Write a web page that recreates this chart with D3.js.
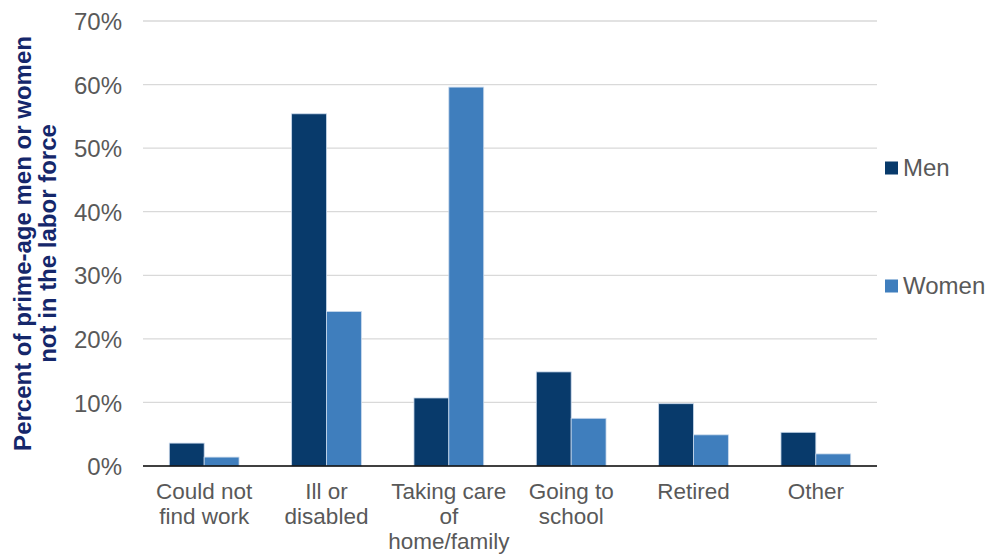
<!DOCTYPE html>
<html>
<head>
<meta charset="utf-8">
<script src="https://cdn.jsdelivr.net/npm/d3@7"></script>
<style>
  body { margin: 0; background: #fff; }
  svg { font-family: 'Liberation Sans', Arial, sans-serif; }
</style>
</head>
<body>
<div id="chart"></div>
<script>
  'use strict';

  // categories and series
  var categories = [
    ['Could not', 'find work'],
    ['Ill or', 'disabled'],
    ['Taking care', 'of', 'home/family'],
    ['Going to', 'school'],
    ['Retired'],
    ['Other']
  ];
  var seriesNames = ['Men', 'Women'];
  var men = [3.6, 55.4, 10.7, 14.8, 9.8, 5.3];
  var women = [1.4, 24.3, 59.6, 7.5, 4.9, 1.9];
  var yTicks = [0, 10, 20, 30, 40, 50, 60, 70];
  var colors = ['#083a6b', '#3f7ebd'];

  var width = 988, height = 554;
  var margin = { top: 21, right: 111, bottom: 88, left: 143 };
  var innerW = width - margin.left - margin.right;
  var innerH = height - margin.top - margin.bottom;

  var svg = d3.select('#chart').append('svg')
    .attr('width', width)
    .attr('height', height);

  var g = svg.append('g')
    .attr('transform', 'translate(' + margin.left + ',' + margin.top + ')');

  var x = d3.scaleBand().domain(d3.range(categories.length)).range([0, innerW]).paddingInner(0.43).paddingOuter(0.215);
  var sub = d3.scaleBand().domain(seriesNames).range([0, x.bandwidth()]);
  var y = d3.scaleLinear().domain([0, 70]).range([innerH, 0]);

  // gridlines
  g.append('g')
    .selectAll('line')
    .data(yTicks.slice(1))
    .enter().append('line')
    .attr('x1', 0).attr('x2', innerW)
    .attr('y1', function(d) { return y(d); })
    .attr('y2', function(d) { return y(d); })
    .attr('stroke', '#d9d9d9')
    .attr('stroke-width', 1.3);

  // y tick labels
  var yAxis = d3.axisLeft(y).tickValues(yTicks).tickSize(0).tickPadding(21)
    .tickFormat(function(d) { return d + '%'; });
  var ya = g.append('g').call(yAxis);
  ya.select('.domain').remove();
  ya.selectAll('text')
    .attr('fill', '#595959')
    .attr('dy', '0.36em')
    .style('font-size', '24px');

  // bars
  var data = categories.map(function(c, i) {
    return [{ s: 'Men', v: men[i] }, { s: 'Women', v: women[i] }];
  });
  var groups = g.selectAll('.grp')
    .data(data)
    .enter().append('g')
    .attr('class', 'grp')
    .attr('transform', function(d, i) { return 'translate(' + x(i) + ',0)'; });
  groups.selectAll('rect')
    .data(function(d) { return d; })
    .enter().append('rect')
    .attr('x', function(d) { return sub(d.s); })
    .attr('width', sub.bandwidth())
    .attr('y', function(d) { return y(d.v); })
    .attr('height', function(d) { return innerH - y(d.v); })
    .attr('fill', function(d, i) { return colors[i]; })
    .attr('stroke', '#c9d9ec')
    .attr('stroke-width', 0.8);

  // baseline
  g.append('line')
    .attr('x1', 0).attr('x2', innerW)
    .attr('y1', innerH).attr('y2', innerH)
    .attr('stroke', '#000')
    .attr('stroke-width', 1.5);

  // x labels
  var xl = g.selectAll('.xlab')
    .data(categories)
    .enter().append('text')
    .attr('class', 'xlab')
    .attr('text-anchor', 'middle')
    .attr('fill', '#595959')
    .style('font-size', '22.5px')
    .attr('transform', function(d, i) { return 'translate(' + (x(i) + x.bandwidth() / 2) + ',' + (innerH + 33) + ')'; });
  xl.selectAll('tspan')
    .data(function(d) { return d; })
    .enter().append('tspan')
    .attr('x', 0)
    .attr('y', function(d, i) { return i * 25; })
    .text(function(d) { return d; });

  // y axis title
  var yt = svg.append('text')
    .attr('transform', 'translate(31,' + (margin.top + innerH / 2) + ') rotate(-90)')
    .attr('text-anchor', 'middle')
    .attr('fill', '#15276b')
    .style('font-size', '24px')
    .style('font-weight', 'bold');
  yt.append('tspan').attr('x', 0).attr('y', 0).text('Percent of prime-age men or women');
  yt.append('tspan').attr('x', 0).attr('y', 25).text('not in the labor force');

  // legend
  var legendY = [168, 286];
  var legend = svg.selectAll('.leg')
    .data(seriesNames)
    .enter().append('g')
    .attr('class', 'leg')
    .attr('transform', function(d, i) { return 'translate(885,' + legendY[i] + ')'; });
  legend.append('rect')
    .attr('x', 0).attr('y', -6.5)
    .attr('width', 13).attr('height', 13)
    .attr('fill', function(d, i) { return colors[i]; });
  legend.append('text')
    .attr('x', 18).attr('y', 8)
    .attr('fill', '#595959')
    .style('font-size', '24px')
    .text(function(d) { return d; });
</script>
</body>
</html>
